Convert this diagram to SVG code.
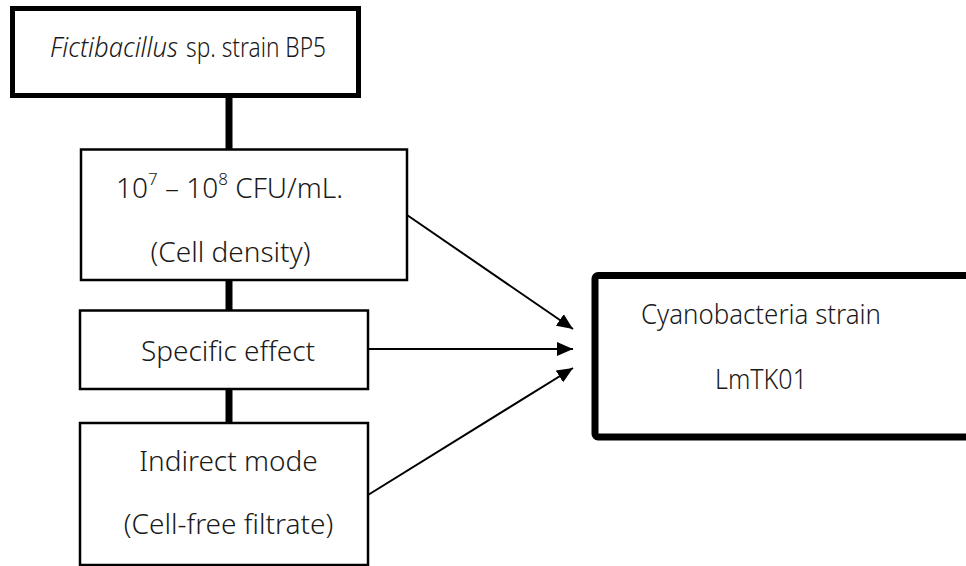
<svg xmlns="http://www.w3.org/2000/svg" width="966" height="566" viewBox="0 0 966 566">
<style>
  .box { fill: #fff; stroke: #000; }
  .t { font-family: "Noto Sans", "Open Sans", sans-serif; font-size: 28px; font-weight: 300; fill: #1a1a1a; }
  .bar { stroke: #000; stroke-width: 7; }
  .arr { stroke: #000; stroke-width: 2; fill: none; marker-end: url(#ah); }
</style>
<defs>
  <marker id="ah" markerWidth="16" markerHeight="14" refX="16" refY="7" orient="auto" markerUnits="userSpaceOnUse">
    <path d="M0,0 L16,7 L0,14 Z" fill="#000"/>
  </marker>
</defs>
<rect width="966" height="566" fill="#fff"/>
<g id="connectors">
  <line class="bar" x1="229" y1="96" x2="229" y2="150"/>
  <line class="bar" x1="229" y1="280" x2="229" y2="311"/>
  <line class="bar" x1="229" y1="389" x2="229" y2="423"/>
  <line class="arr" x1="407" y1="215" x2="573" y2="329"/>
  <line class="arr" x1="368" y1="349" x2="573" y2="349"/>
  <line class="arr" x1="368" y1="495" x2="573" y2="368"/>
</g>
<g id="bp5">
  <rect class="box" x="12.5" y="8.5" width="346" height="87" stroke-width="5"/>
  <text class="t" x="50" y="57" font-style="italic" font-size="26" textLength="128" lengthAdjust="spacingAndGlyphs">Fictibacillus</text>
  <text class="t" x="186" y="57" font-size="26" textLength="140" lengthAdjust="spacingAndGlyphs">sp. strain BP5</text>
</g>
<g id="density">
  <rect class="box" x="81" y="149.5" width="326" height="130.5" stroke-width="2.5"/>
  <text class="t" x="116" y="198">10<tspan font-size="17" dy="-13">7</tspan><tspan dy="13"> – 10</tspan><tspan font-size="17" dy="-13">8</tspan><tspan dy="13"> CFU/mL.</tspan></text>
  <text class="t" x="230.5" y="262" text-anchor="middle">(Cell density)</text>
</g>
<g id="specific">
  <rect class="box" x="80" y="310.5" width="288" height="78.5" stroke-width="2.5"/>
  <text class="t" x="228" y="361" text-anchor="middle">Specific effect</text>
</g>
<g id="indirect">
  <rect class="box" x="80" y="423" width="288" height="142" stroke-width="2.5"/>
  <text class="t" x="228.5" y="471" text-anchor="middle">Indirect mode</text>
  <text class="t" x="228.5" y="534" text-anchor="middle">(Cell-free filtrate)</text>
</g>
<g id="cyano">
  <rect class="box" x="595" y="275.5" width="420" height="161.5" rx="3" stroke-width="7"/>
  <text class="t" x="641" y="324" textLength="240" lengthAdjust="spacingAndGlyphs">Cyanobacteria strain</text>
  <text class="t" x="715" y="389" textLength="92" lengthAdjust="spacingAndGlyphs">LmTK01</text>
</g>
</svg>
